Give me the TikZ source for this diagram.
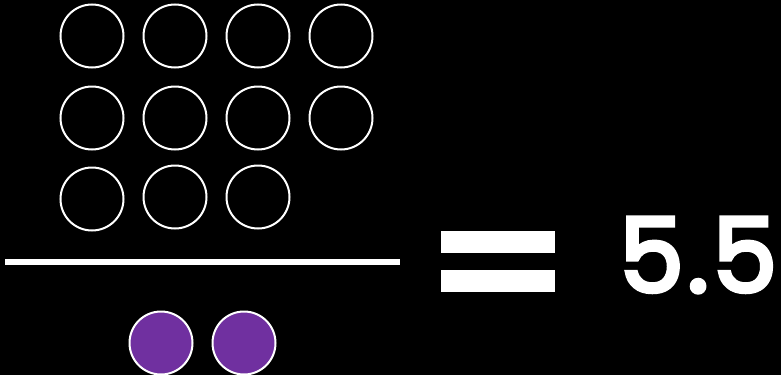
\documentclass[tikz,border=0pt]{standalone}
\usepackage{fontspec}
\setmainfont{Poppins}
\newfontfamily\numfont[FakeBold=4]{Poppins}
\definecolor{dotpurple}{HTML}{7030A0}
\begin{document}
\begin{tikzpicture}[x=1pt,y=-1pt,
  ring/.style={circle,draw=white,line width=2pt,minimum size=63pt,inner sep=0pt},
  dot/.style={circle,draw=white,fill=dotpurple,line width=2pt,minimum size=63pt,inner sep=0pt},
  bar/.style={fill=white,draw=none}]
\fill[black] (0,0) rectangle (781,375);
\useasboundingbox (0,0) rectangle (781,375);
\foreach \c [count=\i] in {92,175,258,341}{
  \node[ring] (a\i) at (\c,36) {};
  \node[ring] (b\i) at (\c,118) {};
}
\node[ring] (c1) at (92,199) {};
\node[ring] (c2) at (175,197) {};
\node[ring] (c3) at (258,197) {};
\coordinate (l1) at (5,261.5);
\coordinate (l2) at (400,261.5);
\draw[white,line width=6pt] (l1) -- (l2);
\node[dot] (d1) at (161,343) {};
\node[dot] (d2) at (244,343) {};
\fill[bar] (441,231) rectangle (555,253);
\fill[bar] (441,270) rectangle (555,292);
\node[anchor=base west,inner sep=0pt,text=white,font=\fontsize{103}{103}\numfont] (v) at (619,292) {5\kern3.5pt.\kern3.5pt5};
\end{tikzpicture}
\end{document}
